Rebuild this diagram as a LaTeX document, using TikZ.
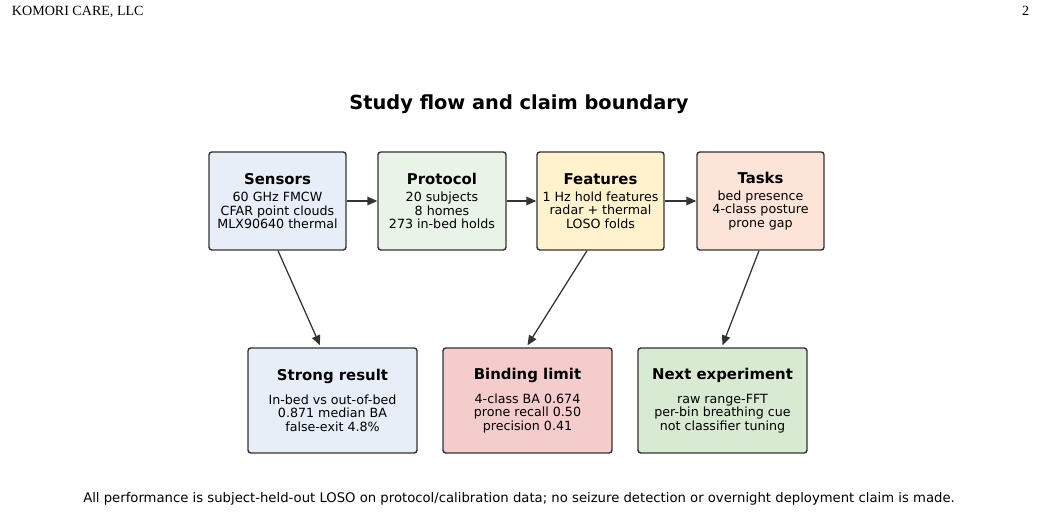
\documentclass[tikz,border=0pt]{standalone}
\usepackage{fontspec}
\setmainfont{DejaVu Sans}
\newfontfamily\headfont{Liberation Serif}
\usetikzlibrary{arrows.meta}

\definecolor{edge}{HTML}{333333}
\definecolor{sensorfill}{HTML}{E8EEF8}
\definecolor{protofill}{HTML}{EAF3E8}
\definecolor{featfill}{HTML}{FFF2CC}
\definecolor{taskfill}{HTML}{FDE4D9}
\definecolor{limitfill}{HTML}{F4CCCC}
\definecolor{nextfill}{HTML}{D9EAD3}

\newcommand{\boxhead}[1]{{\fontsize{10.6}{12}\selectfont\bfseries #1}}

\begin{document}
\begin{tikzpicture}[
    box/.style={draw=edge, line width=1pt, rounded corners=2pt, align=center,
        font=\fontsize{9}{9.6}\selectfont, inner sep=0pt,
        minimum height=2.45cm},
    result/.style={box, minimum width=4.225cm, minimum height=2.625cm},
    flow/.style={draw=edge, line width=0.9pt, -{Triangle[length=7pt,width=6pt]}}
]
    \useasboundingbox (0,0) rectangle (26,12.8);

    % page header
    \node[anchor=base west, font=\headfont\fontsize{10}{11}\selectfont] (firm) at (0.175,12.4) {KOMORI CARE, LLC};
    \node[anchor=base east, font=\headfont\fontsize{10}{11}\selectfont] (page) at (25.85,12.4) {2};

    \node[font=\fontsize{13.8}{16}\selectfont\bfseries] (title) at (12.975,10.2) {Study flow and claim boundary};

    % pipeline
    \node[box, fill=sensorfill, minimum width=3.425cm] (sensors) at (6.9375,7.775)
        {\boxhead{Sensors}\\[2.6pt]60 GHz FMCW\\CFAR point clouds\\MLX90640 thermal};
    \node[box, fill=protofill, minimum width=3.2cm] (protocol) at (11.05,7.775)
        {\boxhead{Protocol}\\[2.6pt]20 subjects\\8 homes\\273 in-bed holds};
    \node[box, fill=featfill, minimum width=3.175cm] (features) at (15.0125,7.775)
        {\boxhead{Features}\\[2.6pt]1 Hz hold features\\radar + thermal\\LOSO folds};
    \node[box, fill=taskfill, minimum width=3.175cm] (tasks) at (19.0125,7.775)
        {\boxhead{Tasks}\\[2.6pt]bed presence\\4-class posture\\prone gap};

    % outcomes
    \node[result, fill=sensorfill] (strong) at (8.3125,2.7875)
        {\boxhead{Strong result}\\[7pt]In-bed vs out-of-bed\\0.871 median BA\\false-exit 4.8\%};
    \node[result, fill=limitfill] (limit) at (13.1875,2.7875)
        {\boxhead{Binding limit}\\[7pt]4-class BA 0.674\\prone recall 0.50\\precision 0.41};
    \node[result, fill=nextfill] (next) at (18.0625,2.7875)
        {\boxhead{Next experiment}\\[7pt]raw range-FFT\\per-bin breathing cue\\not classifier tuning};

    \draw[flow] (sensors) -- (protocol);
    \draw[flow] (protocol) -- (features);
    \draw[flow] (features) -- (tasks);

    \draw[flow] ([xshift=0.0125cm]sensors.south) -- ([xshift=-0.3125cm,yshift=0.05cm]strong.north);
    \draw[flow] ([xshift=-0.3375cm]features.south) -- ([yshift=0.05cm]limit.north);
    \draw[flow] ([xshift=-0.0375cm]tasks.south) -- ([yshift=0.05cm]next.north);

    \node[font=\fontsize{9.4}{11}\selectfont] (note) at (12.975,0.325)
        {All performance is subject-held-out LOSO on protocol/calibration data; no seizure detection or overnight deployment claim is made.};
\end{tikzpicture}
\end{document}
